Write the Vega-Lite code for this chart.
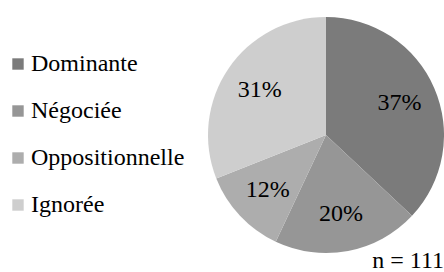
{
  "$schema": "https://vega.github.io/schema/vega-lite/v6.json",
  "width": 236,
  "height": 238,
  "autosize": {"type": "none"},
  "padding": {"left": 208, "top": 16, "right": 0, "bottom": 18},
  "background": "white",
  "config": {"view": {"stroke": null}, "font": "Liberation Serif"},
  "title": {"text": "n = 111", "orient": "bottom", "anchor": "end", "font": "Liberation Serif", "fontSize": 24, "fontWeight": "normal", "color": "black", "offset": 14, "baseline": "alphabetic"},
  "data": {"values": [
    {"cat": "Dominante", "value": 37, "order": 1, "label": "37%"},
    {"cat": "Négociée", "value": 20, "order": 2, "label": "20%"},
    {"cat": "Oppositionnelle", "value": 12, "order": 3, "label": "12%"},
    {"cat": "Ignorée", "value": 31, "order": 4, "label": "31%"}
  ]},
  "encoding": {
    "theta": {"field": "value", "type": "quantitative", "stack": true},
    "order": {"field": "order", "type": "quantitative"}
  },
  "layer": [
    {
      "mark": {"type": "arc", "outerRadius": 118},
      "encoding": {
        "color": {
          "field": "cat", "type": "nominal",
          "sort": ["Dominante", "Négociée", "Oppositionnelle", "Ignorée"],
          "scale": {"domain": ["Dominante", "Négociée", "Oppositionnelle", "Ignorée"], "range": ["#7b7b7b", "#969696", "#adadad", "#cecece"]},
          "legend": {
            "title": null, "orient": "none", "legendX": -202, "legendY": 36,
            "symbolType": "square", "symbolSize": 130, "symbolStrokeWidth": 0,
            "labelFont": "Liberation Serif", "labelFontSize": 24, "labelColor": "black",
            "labelOffset": 1, "rowPadding": 23, "padding": 0, "labelLimit": 300
          }
        }
      }
    },
    {
      "mark": {"type": "text", "radius": 80, "font": "Liberation Serif", "fontSize": 24, "color": "black", "baseline": "middle", "align": "center"},
      "encoding": {"text": {"field": "label", "type": "nominal"}}
    }
  ]
}
